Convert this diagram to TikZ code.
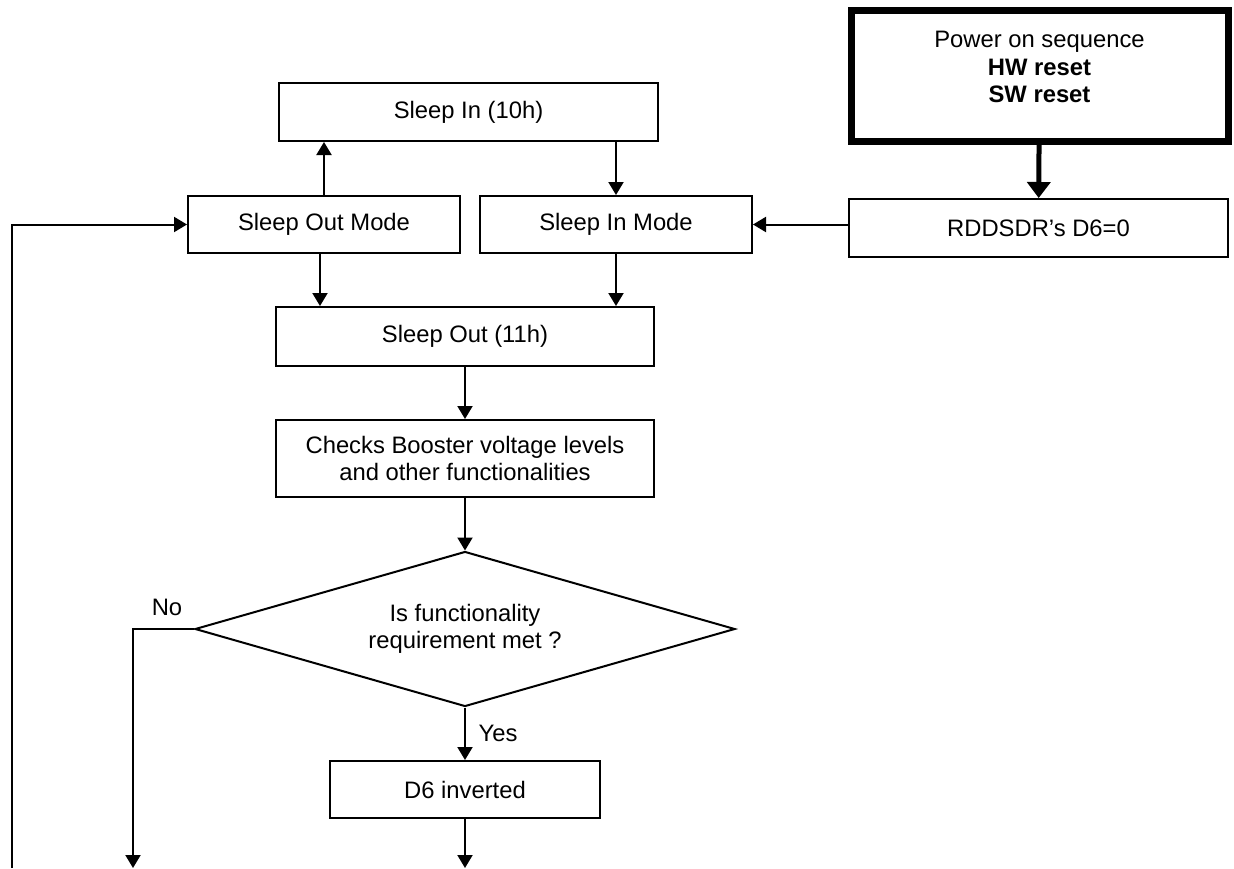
\documentclass[tikz,border=0pt]{standalone}
\usepackage{fontspec}
\setmainfont{Liberation Sans}
\usetikzlibrary{shapes.geometric,arrows.meta,positioning,calc}
\tikzset{
    block/.style = {
        rectangle, draw, line width=2pt, inner sep=0pt,
        minimum height=58pt, align=center
    },
    decision/.style = {
        diamond, draw, line width=2pt, inner sep=0pt, shape aspect=3.5,
        minimum width=540pt, minimum height=155pt, align=center
    },
    line/.style  = {draw, -{Triangle[width=15pt,length=13pt]}, line width=2pt},
    heavy/.style = {draw, -{Triangle[width=23pt,length=16pt]}, line width=5pt},
    lbl/.style   = {inner sep=0pt}
}
\begin{document}
\begin{tikzpicture}[x=1pt, y=-1pt, font=\fontsize{23.8}{27.5}\selectfont]
  \useasboundingbox (0,0) rectangle (1234,868);

  \node [block, line width=7pt, minimum width=377pt, minimum height=131pt]
        (pwr) at (1039.5,75.5) {};
  \node [lbl, align=center] (pwrtxt) at (1039.5,67)
        {Power on sequence\\\textbf{HW reset}\\\textbf{SW reset}};
  \node [block, minimum width=379pt] (rdd) at (1038.5,228) {RDDSDR’s D6=0};
  \node [block, minimum width=379pt] (sin) at (468.5,112) {Sleep In (10h)};
  \node [block, minimum width=272pt, minimum height=57pt]
        (som) at (324,224.5) {Sleep Out Mode};
  \node [block, minimum width=272pt, minimum height=57pt]
        (sim) at (616,224.5) {Sleep In Mode};
  \node [block, minimum width=378pt, minimum height=59pt]
        (sout) at (465,336.5) {Sleep Out (11h)};
  \node [block, minimum width=378pt, minimum height=77pt]
        (chk) at (465,458.5) {Checks Booster voltage levels\\and other functionalities};
  \node [decision] (dia) at (465,629)
        {Is functionality\\requirement met ?};
  \node [block, minimum width=270pt, minimum height=57pt]
        (d6) at (465,789.5) {D6 inverted};

  \node [lbl] (yes) at (498,733) {Yes};
  \node [lbl] (no) at (167,607) {No};

  \coordinate (endy) at (465,868);
  \coordinate (endn) at (133,868);
  \coordinate (loop) at (12,868);

  \path [heavy] (pwr) -- (rdd);
  \path [line] (sim.east -| rdd.west) -- (sim.east);
  \path [line] (som.north) -- (som.north |- sin.south);
  \path [line] (sim.north |- sin.south) -- (sim.north);
  \path [line] ($(som.south)+(-4,0)$) -- ($(som.south |- sout.north)+(-4,0)$);
  \path [line] (sim.south) -- (sim.south |- sout.north);
  \path [line] (sout) -- (chk);
  \path [line] (chk) -- (dia);
  \path [line] (dia) -- (d6);
  \path [line] (d6) -- (endy);
  \path [line] (dia.west) -| (endn);
  \path [line] (loop) |- (som.west);
\end{tikzpicture}
\end{document}
